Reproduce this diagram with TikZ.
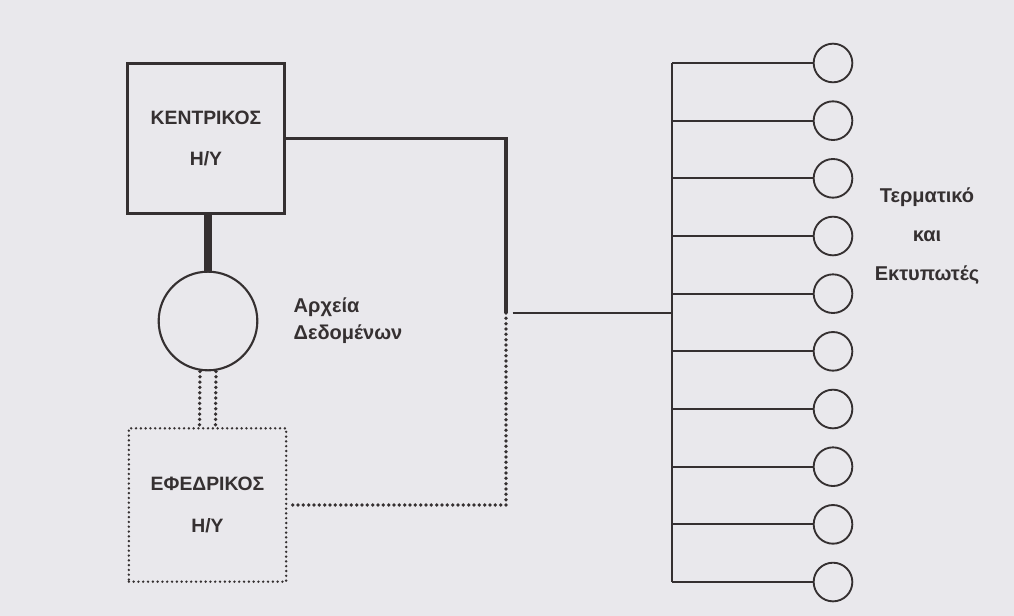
\documentclass[tikz,border=0pt]{standalone}
\usepackage{fontspec}
\setmainfont{Liberation Sans}
\usepackage{tikz}
\usetikzlibrary{positioning,calc}
\definecolor{ink}{HTML}{353031}
\definecolor{paper}{HTML}{E9E8EC}

\begin{document}
\begin{tikzpicture}[x=0.75pt,y=-0.75pt,
  lbl/.style={font=\bfseries\fontsize{15}{20}\selectfont,text=ink},
  pc/.style={draw=ink,line width=2.2pt,minimum width=118pt,minimum height=112pt,
    align=center,font=\bfseries\fontsize{14.5}{31}\selectfont,text=ink},
  backup/.style={pc,line width=2pt,dash pattern=on 0pt off 3.6pt,line cap=round,
    minimum height=115pt},
  disk/.style={circle,draw=ink,line width=1.6pt,minimum size=74pt,inner sep=0pt},
  term/.style={circle,draw=ink,line width=1.4pt,minimum size=29pt,inner sep=0pt},
  link/.style={draw=ink,line width=1.3pt},
  heavy/.style={draw=ink,line width=2.4pt},
  dots/.style={draw=ink,line width=2.8pt,line cap=round,dash pattern=on 0pt off 4pt}]
\useasboundingbox[fill=paper] (0,0) rectangle (1014,616);
% computers and files
\node[pc] (main) at (206,138.5) {ΚΕΝΤΡΙΚΟΣ\\Η/Υ};
\node[disk] (files) at (208,321) {};
\node[backup] (spare) at (207.5,505) {ΕΦΕΔΡΙΚΟΣ\\Η/Υ};
\node[lbl,align=left,anchor=west] (fileslbl) at (289,321) {Αρχεία\\Δεδομένων};
\draw[draw=ink,line width=6pt] (main.south -| files) -- (files.north);
\draw[dots] ([xshift=-6pt]files.south) -- ([xshift=-6pt]spare.north);
\draw[dots] ([xshift=6pt]files.south) -- ([xshift=6pt]spare.north);
% line to the terminals
\coordinate (tap) at (506,313);
\coordinate (bus) at (672,313);
\draw[heavy] (main.east) -| (tap);
\draw[dots] (tap) |- (spare.east);
\draw[link] ([xshift=5pt]tap) -- (bus);
% terminals
\foreach \i in {1,...,10}
  \node[term] (t\i) at (833,{63+57.67*(\i-1)}) {};
\draw[link] (t1.west -| bus) -- (t10.west -| bus);
\foreach \i in {1,...,10}
  \draw[link] (t\i.west) -- (t\i.west -| bus);
\node[lbl,align=center,font=\bfseries\fontsize{15}{29}\selectfont] (termlbl) at (927,236) {Τερματικό\\και\\Εκτυπωτές};
\end{tikzpicture}
\end{document}
